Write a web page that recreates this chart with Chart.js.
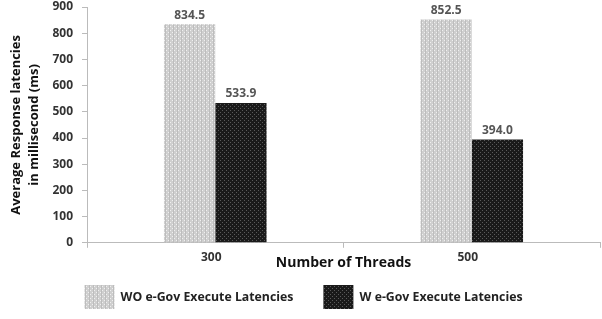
<!DOCTYPE html>
<html lang="en">
<head>
  <meta charset="UTF-8">
  <title>Average Response latencies</title>
  <script src="https://cdn.jsdelivr.net/npm/chart.js"></script>
  <style>
    html, body { margin: 0; padding: 0; background: #fff; }
    .chart-container { width: 602px; height: 319px; }
  </style>
</head>
<body>
  <div class="chart-container">
    <canvas id="latChart"></canvas>
  </div>

  <script>
    const threads = ['300', '500'];
    const withoutEgov = [834.5, 852.5];
    const withEgov = [533.9, 394.0];
    const seriesNames = ['WO e-Gov Execute Latencies', 'W e-Gov Execute Latencies'];
    const yTitle = ['Average Response latencies', 'in millisecond (ms)'];
    const xTitle = 'Number of Threads';

    // small dotted textures like the original bars
    function makePattern(bg, dot, alt) {
      const c = document.createElement('canvas');
      c.width = 4; c.height = 4;
      const g = c.getContext('2d');
      g.fillStyle = bg;
      g.fillRect(0, 0, 4, 4);
      g.fillStyle = dot;
      g.fillRect(0, 0, 1, 1);
      g.fillRect(2, 2, 1, 1);
      if (alt) {
        g.fillStyle = alt;
        g.fillRect(1, 0, 1, 4);
      }
      return g.createPattern(c, 'repeat');
    }
    const lightFill = makePattern('#cfcfcf', '#f0f0f0', '#bdbdbd');
    const darkFill = makePattern('#1a1a1a', '#5a5a5a', null);

    const valueLabels = {
      id: 'valueLabels',
      afterDatasetsDraw(chart) {
        const ctx = chart.ctx;
        ctx.save();
        ctx.font = 'bold 12px "Open Sans", sans-serif';
        ctx.fillStyle = '#555';
        ctx.textAlign = 'center';
        ctx.textBaseline = 'bottom';
        chart.data.datasets.forEach((ds, i) => {
          chart.getDatasetMeta(i).data.forEach((bar, j) => {
            ctx.fillText(ds.data[j].toFixed(1), bar.x, bar.y - 3);
          });
        });
        ctx.restore();
      }
    };

    // legend needs wide gaps between items but sits close under the axis title
    const legendLift = {
      id: 'legendLift',
      afterLayout(chart) {
        const lg = chart.legend;
        lg.top -= 16;
        lg.bottom -= 16;
      }
    };

    const ctx = document.getElementById('latChart').getContext('2d');
    new Chart(ctx, {
      type: 'bar',
      data: {
        labels: threads,
        datasets: [{
          label: seriesNames[0],
          data: withoutEgov,
          backgroundColor: lightFill,
          barPercentage: 1,
          categoryPercentage: 0.4
        }, {
          label: seriesNames[1],
          data: withEgov,
          backgroundColor: darkFill,
          barPercentage: 1,
          categoryPercentage: 0.4
        }]
      },
      options: {
        responsive: true,
        maintainAspectRatio: false,
        animation: false,
        layout: { padding: { left: 7, right: 2, top: 0, bottom: -16 } },
        scales: {
          x: {
            grid: {
              drawOnChartArea: false,
              color: '#bbb',
              tickLength: 5
            },
            border: { color: '#bbb' },
            ticks: {
              color: '#333',
              font: { family: '"Open Sans", sans-serif', size: 12, weight: 'bold' },
              padding: 3,
              labelOffset: -4
            },
            title: {
              display: true,
              text: xTitle,
              color: '#111',
              font: { family: '"Open Sans", sans-serif', size: 14, weight: 'bold' },
              padding: { top: -14, bottom: 0 }
            }
          },
          y: {
            min: 0,
            max: 900,
            ticks: {
              stepSize: 100,
              color: '#333',
              font: { family: '"Open Sans", sans-serif', size: 12, weight: 'bold' },
              padding: 9
            },
            grid: {
              drawOnChartArea: false,
              color: '#bbb',
              tickLength: 5
            },
            border: { color: '#bbb' },
            title: {
              display: true,
              text: yTitle,
              color: '#111',
              font: { family: '"Open Sans", sans-serif', size: 13, weight: 'bold', lineHeight: 1.4 },
              padding: { top: 0, bottom: 2 }
            },
            afterFit(scale) {
              scale.width = 80;
              scale.paddingTop = 7;
            }
          }
        },
        plugins: {
          legend: {
            position: 'bottom',
            labels: {
              boxWidth: 30,
              boxHeight: 24,
              padding: 30,
              color: '#222',
              font: { family: '"Open Sans", sans-serif', size: 12.3, weight: 'bold' }
            }
          },
          tooltip: { enabled: false }
        }
      },
      plugins: [valueLabels, legendLift]
    });
  </script>
</body>
</html>
